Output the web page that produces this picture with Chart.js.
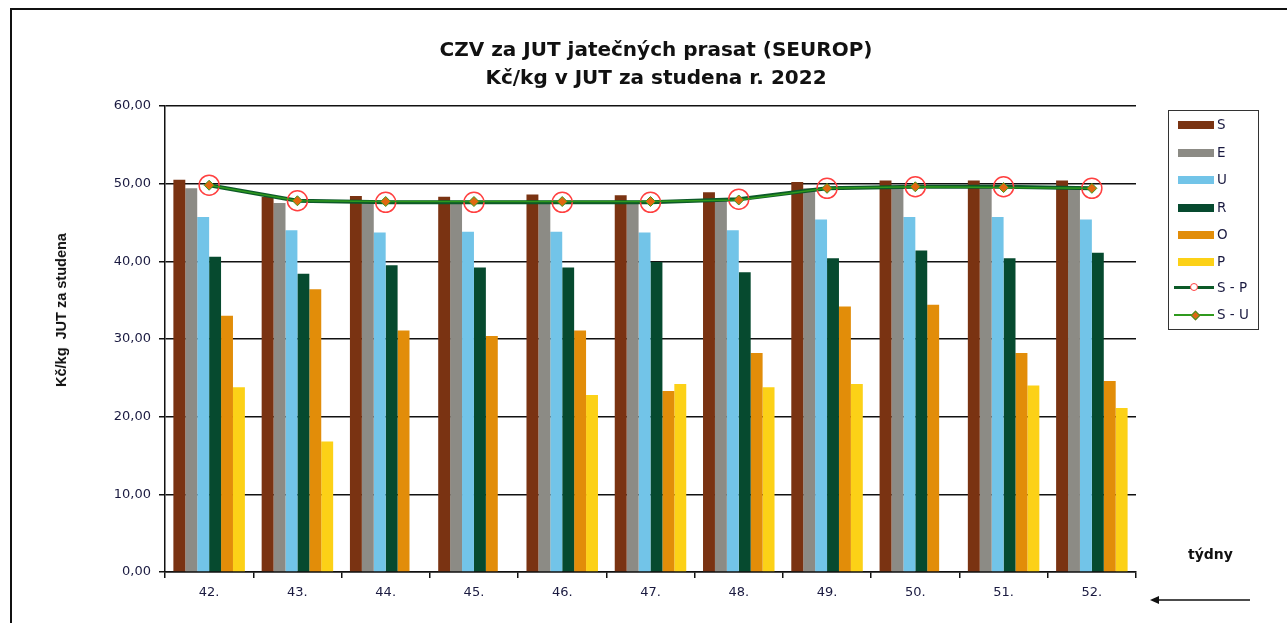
<!DOCTYPE html>
<html>
<head>
<meta charset="utf-8">
<script src="https://cdn.jsdelivr.net/npm/chart.js@4/dist/chart.umd.min.js"></script>
<style>
    html, body { margin: 0; padding: 0; background: #fff; }
    body { width: 1287px; height: 623px; position: relative; overflow: hidden; font-family: "DejaVu Sans", Verdana, sans-serif; }
    #frame { position: absolute; left: 10px; top: 8px; width: 1300px; height: 640px; border: 2px solid #111; box-sizing: border-box; }
    #chartWrap { position: absolute; left: 0; top: 0; width: 1287px; height: 623px; }
    .title { position: absolute; left: 300px; width: 712px; text-align: center; font-weight: bold; font-size: 20px; color: #111; }
    #yTitle { position: absolute; left: 61px; top: 310px; transform: translate(-50%, -50%) rotate(-90deg); white-space: pre; font-family: "Liberation Sans", Arial, sans-serif; font-weight: bold; font-size: 14.5px; color: #111; }
    #xNote { position: absolute; left: 1188px; top: 546px; font-weight: bold; font-size: 14px; color: #111; }
    #arrow { position: absolute; left: 1150px; top: 595px; width: 100px; height: 10px; }
    #legend { position: absolute; left: 1168px; top: 110px; width: 91px; height: 220px; border: 1px solid #333; box-sizing: border-box; }
    .lg-item { position: absolute; left: 0; height: 14px; width: 90px; }
    .lg-text { position: absolute; left: 48px; top: -2px; font-size: 13.5px; color: #1a1a40; white-space: pre; }
</style>
</head>
<body>
<div id="frame"></div>
<div id="chartWrap"><canvas id="chart" width="1287" height="623"></canvas></div>
<div class="title" style="top:37px">CZV za JUT jatečných prasat (SEUROP)</div>
<div class="title" style="top:65px">Kč/kg v JUT za studena r. 2022</div>
<div id="yTitle">Kč/kg  JUT za studena</div>
<div id="xNote">týdny</div>
<svg id="arrow" viewBox="0 0 100 10"><line x1="6" y1="5" x2="100" y2="5" stroke="#111" stroke-width="1.5"/><polygon points="0,5 9,1 9,9" fill="#111"/></svg>
<div id="legend"></div>
<script>
    // týdny (kategorie osy X)
    var weeks = ["42.", "43.", "44.", "45.", "46.", "47.", "48.", "49.", "50.", "51.", "52."];

    // třídy SEUROP, Kč/kg
    var classS = [50.5, 48.3, 48.4, 48.3, 48.6, 48.5, 48.9, 50.2, 50.4, 50.4, 50.4];
    var classE = [49.4, 47.5, 47.7, 47.6, 47.7, 47.7, 48.0, 49.4, 49.6, 49.6, 49.4];
    var classU = [45.7, 44.0, 43.7, 43.8, 43.8, 43.7, 44.0, 45.4, 45.7, 45.7, 45.4];
    var classR = [40.6, 38.4, 39.5, 39.2, 39.2, 39.9, 38.6, 40.4, 41.4, 40.4, 41.1];
    var classO = [33.0, 36.4, 31.1, 30.4, 31.1, 23.3, 28.2, 34.2, 34.4, 28.2, 24.6];
    var classP = [23.8, 16.8, null, null, 22.8, 24.2, 23.8, 24.2, null, 24.0, 21.1];

    // průměry
    var avgSP = [49.8, 47.8, 47.6, 47.6, 47.6, 47.6, 48.0, 49.4, 49.6, 49.6, 49.4];
    var avgSU = [49.8, 47.8, 47.7, 47.7, 47.7, 47.7, 47.9, 49.4, 49.6, 49.5, 49.4];

    var yTicks = [0, 10, 20, 30, 40, 50, 60];

    var tickFont = { family: "DejaVu Sans", size: 13 };
    var tickColor = "#1a1a40";

    function bar(label, data, color) {
        return { type: "bar", label: label, data: data, backgroundColor: color, borderWidth: 0, order: 3 };
    }

    var datasets = [
        bar("S", classS, "#7a3312"),
        bar("E", classE, "#8c8b85"),
        bar("U", classU, "#72c4e8"),
        bar("R", classR, "#064a2f"),
        bar("O", classO, "#e28d09"),
        bar("P", classP, "#fcd117"),
        {
            type: "line", label: "S - P", data: avgSP, order: 2,
            borderColor: "#0c5a28", borderWidth: 4, tension: 0,
            pointStyle: "circle", pointRadius: 10, pointBorderWidth: 1.5,
            pointBorderColor: "#ff4040", pointBackgroundColor: "rgba(255,255,255,0)"
        },
        {
            type: "line", label: "S - U", data: avgSU, order: 1,
            borderColor: "#2f9a1e", borderWidth: 1.5, tension: 0,
            pointStyle: "rectRot", pointRadius: 5, pointBorderWidth: 1,
            pointBorderColor: "#3a9a22", pointBackgroundColor: "#e06810"
        }
    ];

    var chart = new Chart(document.getElementById("chart"), {
        data: { labels: weeks, datasets: datasets },
        options: {
            responsive: false,
            animation: false,
            layout: { padding: { left: 95, right: 151, top: 106, bottom: 20 } },
            datasets: { bar: { categoryPercentage: 0.81, barPercentage: 1.0 } },
            plugins: { legend: { display: false }, tooltip: { enabled: false } },
            scales: {
                x: {
                    offset: true,
                    grid: { offset: true, drawOnChartArea: false, color: "#111", lineWidth: 1.5, tickLength: 6 },
                    border: { color: "#111", width: 1.5 },
                    ticks: { font: tickFont, color: tickColor, padding: 7 },
                    afterFit: function (s) { s.height = 31; }
                },
                y: {
                    min: 0, max: 60,
                    afterBuildTicks: function (s) { s.ticks = yTicks.map(function (v) { return { value: v }; }); },
                    grid: { color: "#111", lineWidth: 1.5, tickLength: 6 },
                    border: { color: "#111", width: 1.5 },
                    ticks: {
                        font: tickFont, color: tickColor, padding: 8,
                        callback: function (v) { return v.toFixed(2).replace(".", ","); }
                    },
                    afterFit: function (s) { s.width = 70; }
                }
            }
        }
    });

    // legenda z datových sad grafu
    var legend = document.getElementById("legend");
    var rowTops = [7, 35, 62, 90, 117, 144, 170, 197];
    chart.data.datasets.forEach(function (ds, i) {
        var item = document.createElement("div");
        item.className = "lg-item";
        item.style.top = rowTops[i] + "px";
        var html = "";
        if (ds.type === "bar") {
            html += '<div style="position:absolute;left:9px;top:3px;width:36px;height:8px;background:' + ds.backgroundColor + '"></div>';
        } else if (i === 6) {
            html += '<div style="position:absolute;left:5px;top:5px;width:40px;height:3px;background:' + ds.borderColor + '"></div>';
            html += '<div style="position:absolute;left:21px;top:2px;width:6px;height:6px;border:1.5px solid #ff4040;border-radius:50%;background:#fff"></div>';
        } else {
            html += '<div style="position:absolute;left:5px;top:6px;width:40px;height:1.5px;background:' + ds.borderColor + '"></div>';
            html += '<div style="position:absolute;left:23px;top:4px;width:5px;height:5px;transform:rotate(45deg);background:#e06810;border:1px solid #3a9a22"></div>';
        }
        html += '<span class="lg-text">' + ds.label + '</span>';
        item.innerHTML = html;
        legend.appendChild(item);
    });
</script>
</body>
</html>
